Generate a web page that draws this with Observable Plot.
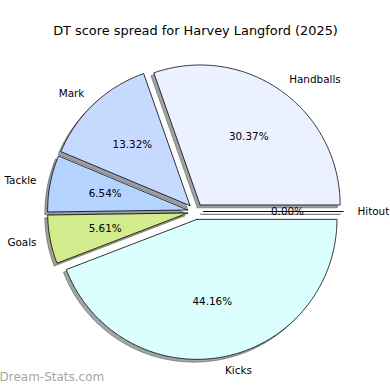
<!DOCTYPE html>
<html><head><meta charset="utf-8">
<script src="https://cdn.jsdelivr.net/npm/d3@7"></script>
<script src="https://cdn.jsdelivr.net/npm/@observablehq/plot@0.6"></script>
<style>html,body{margin:0;padding:0;background:#fff}</style>
</head><body><div id="chart"></div>
<script>
const categories = ["Handballs", "Mark", "Tackle", "Goals", "Kicks", "Hitout"];
const shares = [30.37, 13.32, 6.54, 5.61, 44.16, 0.00];
const colors = ["#ebf1ff", "#c6daff", "#b4d4ff", "#d1eb8d", "#dbffff", "#e6e6e6"];
const titleText = "DT score spread for Harvey Langford (2025)";
const watermark = "Dream-Stats.com";

const explode = 0.057;
const shadowOffset = 0.02;
const labelDistance = 1.1;
const pctDistance = 0.6;

const total = d3.sum(shares);
let acc = 0;
const slices = categories.map((c, i) => {
  const t1 = acc / total * 2 * Math.PI;
  acc += shares[i];
  const t2 = acc / total * 2 * Math.PI;
  const tm = (t1 + t2) / 2;
  return {c, v: shares[i], color: colors[i], t1, t2, tm,
    ox: explode * Math.cos(tm), oy: explode * Math.sin(tm)};
});

function outline(s, dx, dy, kind) {
  const pts = [];
  const n = Math.max(2, Math.ceil((s.t2 - s.t1) / 0.01));
  pts.push({c: s.c, kind, x: s.ox + dx, y: s.oy + dy});
  for (let k = 0; k <= n; k++) {
    const t = s.t1 + (s.t2 - s.t1) * k / n;
    pts.push({c: s.c, kind, x: s.ox + dx + Math.cos(t), y: s.oy + dy + Math.sin(t)});
  }
  pts.push({c: s.c, kind, x: s.ox + dx, y: s.oy + dy});
  return pts;
}
const colorOf = Object.fromEntries(slices.map(s => [s.c, s.color]));
const shadeOf = Object.fromEntries(slices.map(s => {
  const r = d3.rgb(s.color);
  return [s.c, d3.rgb(r.r * 0.3, r.g * 0.3, r.b * 0.3).formatHex()];
}));
const shadowPts = slices.flatMap(s => outline(s, -shadowOffset, -shadowOffset, "shadow"));
const wedgePts = slices.flatMap(s => outline(s, 0, 0, "wedge"));

const labelPos = slices.map(s => ({...s,
  lx: s.ox + labelDistance * Math.cos(s.tm), ly: s.oy + labelDistance * Math.sin(s.tm),
  px: s.ox + pctDistance * Math.cos(s.tm), py: s.oy + pctDistance * Math.sin(s.tm)}));

const W = 390, H = 390, scalePx = 140, cx = 195, cy = 211;
const font = "DejaVu Sans, sans-serif";

const chart = Plot.plot({
  width: W, height: H,
  margin: 0,
  style: {fontFamily: font, background: "#fff"},
  x: {domain: [-cx / scalePx, (W - cx) / scalePx], range: [0, W], axis: null},
  y: {domain: [(cy - H) / scalePx, cy / scalePx], range: [H, 0], axis: null},
  color: {type: "identity"},
  marks: [
    Plot.line(shadowPts, {x: "x", y: "y", z: "c", curve: "linear",
      fill: d => shadeOf[d.c], stroke: d => shadeOf[d.c],
      fillOpacity: 0.5, strokeOpacity: 0.5, strokeWidth: 1}),
    Plot.line(wedgePts, {x: "x", y: "y", z: "c", curve: "linear",
      fill: d => colorOf[d.c], stroke: "#000", strokeWidth: 0.8, strokeLinejoin: "miter"}),
    Plot.text(labelPos.filter(d => d.lx > 0), {x: "lx", y: "ly", text: "c",
      textAnchor: "start", fontSize: 10.4, fill: "#000"}),
    Plot.text(labelPos.filter(d => d.lx <= 0), {x: "lx", y: "ly", text: "c",
      textAnchor: "end", fontSize: 10.4, fill: "#000"}),
    Plot.text(labelPos, {x: "px", y: "py", text: d => d.v.toFixed(2) + "%",
      textAnchor: "middle", fontSize: 10.4, fill: "#000"}),
    Plot.text([titleText], {frameAnchor: "top", dy: 25, text: d => d,
      fontSize: 12.9, fill: "#000"}),
    Plot.text([watermark], {frameAnchor: "bottom-left", dx: -1, dy: -10, text: d => d,
      textAnchor: "start", fontSize: 12, fill: "#a6a6a6", fontFamily: "DejaVu Sans"})
  ]
});
document.getElementById("chart").appendChild(chart);
</script>
</body></html>
